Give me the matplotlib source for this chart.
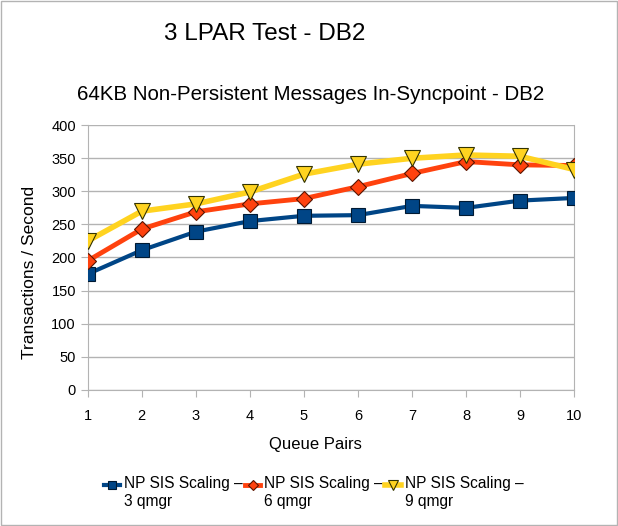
import numpy as np
import matplotlib
matplotlib.use('Agg')
import matplotlib.pyplot as plt

plt.rcParams['font.family'] = ['Liberation Sans', 'DejaVu Sans']

queue_pairs = [1, 2, 3, 4, 5, 6, 7, 8, 9, 10]
np_3qmgr = [175, 211, 239, 255, 263, 264, 278, 275, 286, 290]
np_6qmgr = [195, 243, 269, 281, 289, 307, 327, 345, 340, 339]
np_9qmgr = [225, 270, 281, 299, 326, 341, 350, 355, 353, 333]
labels = ['NP SIS Scaling –\n3 qmgr', 'NP SIS Scaling –\n6 qmgr', 'NP SIS Scaling –\n9 qmgr']

fig = plt.figure(figsize=(6.18, 5.26), dpi=100)
ax = fig.add_axes([0.142, 0.259, 0.787, 0.503])

ax.plot(queue_pairs, np_3qmgr, color='#004586', lw=3, marker='s', ms=10,
        mec='#001a33', mew=0.8, label=labels[0], zorder=3)
ax.plot(queue_pairs, np_6qmgr, color='#ff420e', lw=3.5, marker='D', ms=8,
        mec='#5a1400', mew=0.8, label=labels[1], zorder=4)
ax.plot(queue_pairs, np_9qmgr, color='#ffd320', lw=4, marker='v', ms=11,
        mec='#333300', mew=0.8, label=labels[2], zorder=5)

ax.set_xlim(1, 10)
ax.set_ylim(0, 400)
ax.set_xticks(queue_pairs)
ax.set_yticks(np.arange(0, 401, 50))
ax.grid(axis='y', color='#b3b3b3', lw=1)
ax.set_axisbelow(True)
ax.spines['top'].set_visible(False)
for s in ['left', 'right', 'bottom']:
    ax.spines[s].set_color('#b3b3b3')
ax.tick_params(axis='both', colors='#b3b3b3', labelcolor='black', labelsize=10.5, length=5)
ax.tick_params(axis='x', pad=9)

ax.set_xlabel('Queue Pairs', fontsize=12)
ax.set_ylabel('Transactions / Second', fontsize=12.5)
ax.xaxis.set_label_coords(0.469, -0.177)
ax.yaxis.set_label_coords(-0.105, 0.445)

fig.text(0.428, 0.935, '3 LPAR Test - DB2', fontsize=17.5, ha='center', va='center')
fig.text(0.503, 0.82, '64KB Non-Persistent Messages In-Syncpoint - DB2', fontsize=14.8,
         ha='center', va='center')

leg = fig.legend(loc='center', bbox_to_anchor=(0.508, 0.06), ncol=3, frameon=False,
                 fontsize=11.2, handlelength=1.0, handletextpad=0.25, columnspacing=0.15,
                 handleheight=4.3, markerscale=0.6)

fig.add_artist(plt.Rectangle((0.002, 0.002), 0.996, 0.996, transform=fig.transFigure,
                             fill=False, edgecolor='#b3b3b3', lw=1))

fig.savefig('out.png', dpi=100)
